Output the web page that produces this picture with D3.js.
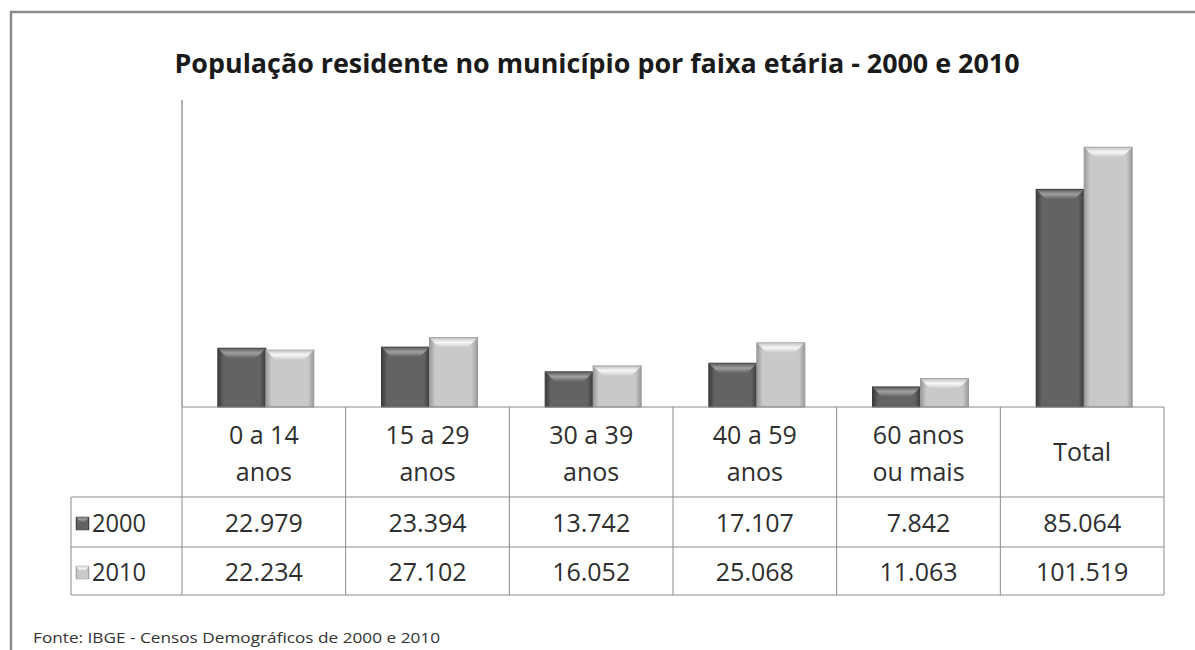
<!DOCTYPE html>
<html>
<head>
<meta charset="utf-8">
<script src="https://cdn.jsdelivr.net/npm/d3@7"></script>
<style>
  body { margin: 0; background: #fff; }
  text { font-family: "Open Sans", "Noto Sans", sans-serif; }
</style>
</head>
<body>
<div id="chart"></div>
<script>
// data
const categories = ["0 a 14|anos", "15 a 29|anos", "30 a 39|anos", "40 a 59|anos", "60 anos|ou mais", "Total"];
const series = ["2000", "2010"];
const values2000 = [22979, 23394, 13742, 17107, 7842, 85064];
const values2010 = [22234, 27102, 16052, 25068, 11063, 101519];
const title = "População residente no município por faixa etária - 2000 e 2010";
const source = "Fonte: IBGE - Censos Demográficos de 2000 e 2010";

const width = 1195, height = 650;
const plot = {left: 182, right: 1164, top: 100, bottom: 407};
const rowH = [90, 50, 48];

const svg = d3.select("#chart").append("svg")
  .attr("width", width).attr("height", height);

const defs = svg.append("defs");
const colors = {"2000": ["#3a3a3a", "#636363", "#a0a0a0"], "2010": ["#999", "#c9c9c9", "#f7f7f7"]};
series.forEach(s => {
  const c = colors[s];
  const g = defs.append("linearGradient").attr("id", "body" + s).attr("x1", 0).attr("x2", 1);
  g.append("stop").attr("offset", "0%").attr("stop-color", c[0]);
  g.append("stop").attr("offset", "12%").attr("stop-color", c[1]);
  g.append("stop").attr("offset", "88%").attr("stop-color", c[1]);
  g.append("stop").attr("offset", "100%").attr("stop-color", c[0]);
  const t = defs.append("linearGradient").attr("id", "top" + s).attr("x1", 0).attr("x2", 0).attr("y1", 0).attr("y2", 1);
  t.append("stop").attr("offset", "0%").attr("stop-color", c[1]);
  t.append("stop").attr("offset", "45%").attr("stop-color", c[2]);
  t.append("stop").attr("offset", "100%").attr("stop-color", c[1]);
});

// outer frame
svg.append("path")
  .attr("d", `M11,${height} V12 H${width}`)
  .attr("fill", "none").attr("stroke", "#8a8a8a").attr("stroke-width", 2.5);

svg.append("text")
  .attr("x", 597).attr("y", 73)
  .attr("text-anchor", "middle")
  .attr("font-size", 27).attr("font-weight", "bold").attr("fill", "#1a1a1a")
  .attr("textLength", 845).attr("lengthAdjust", "spacingAndGlyphs")
  .text(title);

// scales
const x = d3.scaleBand().domain(categories).range([plot.left, plot.right]);
const xs = d3.scaleBand().domain(series).range([0, 96]);
const y = d3.scaleLinear().domain([0, 120000]).range([plot.bottom, plot.top]);

// y axis line (no ticks)
svg.append("line")
  .attr("x1", plot.left).attr("x2", plot.left)
  .attr("y1", plot.top).attr("y2", plot.bottom)
  .attr("stroke", "#666").attr("stroke-width", 1);

// bars
const data = categories.map((c, i) => ({cat: c, vals: [
  {s: "2000", v: values2000[i]}, {s: "2010", v: values2010[i]}]}));

const groups = svg.selectAll("g.cat").data(data).join("g")
  .attr("class", "cat")
  .attr("transform", d => `translate(${x(d.cat) + (x.bandwidth() - 96) / 2 + 2},0)`);

const bars = groups.selectAll("g.bar").data(d => d.vals).join("g").attr("class", "bar");
bars.append("rect")
  .attr("x", d => xs(d.s)).attr("width", xs.bandwidth())
  .attr("y", d => y(d.v)).attr("height", d => y(0) - y(d.v))
  .attr("fill", d => `url(#body${d.s})`)
  .attr("stroke", d => colors[d.s][0]).attr("stroke-width", 1);
bars.append("path")
  .attr("d", d => {
    const x0 = xs(d.s), w = xs.bandwidth(), t = y(d.v), b = 10;
    return `M${x0 + 0.5},${t + 0.5} H${x0 + w - 0.5} L${x0 + w - b},${t + b} H${x0 + b} Z`;
  })
  .attr("fill", d => `url(#top${d.s})`);

// table
const tTop = plot.bottom;
const rowY = [tTop, tTop + rowH[0], tTop + rowH[0] + rowH[1], tTop + rowH[0] + rowH[1] + rowH[2]];
const table = svg.append("g").attr("stroke", "#8a8a8a").attr("stroke-width", 1);
table.append("line").attr("x1", plot.left).attr("x2", plot.right).attr("y1", rowY[0]).attr("y2", rowY[0]);
[1, 2, 3].forEach(i => table.append("line").attr("x1", 71).attr("x2", plot.right).attr("y1", rowY[i]).attr("y2", rowY[i]));
table.append("line").attr("x1", 71).attr("x2", 71).attr("y1", rowY[1]).attr("y2", rowY[3]);
categories.forEach(c => table.append("line").attr("x1", x(c)).attr("x2", x(c)).attr("y1", rowY[0]).attr("y2", rowY[3]));
table.append("line").attr("x1", plot.right).attr("x2", plot.right).attr("y1", rowY[0]).attr("y2", rowY[3]);

const cellFont = 25, txt = "#2e2e2e";
categories.forEach(c => {
  const lines = c.split("|");
  const cx = x(c) + x.bandwidth() / 2;
  const t = svg.append("text").attr("text-anchor", "middle").attr("font-size", cellFont).attr("fill", txt);
  if (lines.length === 1) {
    t.attr("x", cx).attr("y", (rowY[0] + rowY[1]) / 2 + 9).text(lines[0]);
  } else {
    t.append("tspan").attr("x", cx).attr("y", rowY[0] + 37).text(lines[0]);
    t.append("tspan").attr("x", cx).attr("y", rowY[0] + 74).text(lines[1]);
  }
});

const fmt = d3.formatLocale({decimal: ",", thousands: ".", grouping: [3], currency: ["", ""]}).format(",d");
[values2000, values2010].forEach((vals, r) => {
  const cy = (rowY[r + 1] + rowY[r + 2]) / 2 + 10;
  categories.forEach((c, i) => {
    svg.append("text").attr("x", x(c) + x.bandwidth() / 2).attr("y", cy)
      .attr("text-anchor", "middle").attr("font-size", cellFont).attr("fill", txt)
      .text(fmt(vals[i]));
  });
  // legend key
  const s = series[r];
  svg.append("rect").attr("x", 76).attr("y", cy - 15).attr("width", 13).attr("height", 13)
    .attr("fill", `url(#body${s})`).attr("stroke", colors[s][0]).attr("stroke-width", 0.5);
  svg.append("path")
    .attr("d", `M76,${cy - 15} H89 L85,${cy - 10} H80 Z`).attr("fill", `url(#top${s})`);
  svg.append("text").attr("x", 92).attr("y", cy).attr("font-size", cellFont).attr("fill", txt)
    .attr("textLength", 54).attr("lengthAdjust", "spacingAndGlyphs").text(s);
});

svg.append("text")
  .attr("x", 33).attr("y", 643)
  .attr("font-size", 15).attr("fill", "#333")
  .attr("textLength", 407).attr("lengthAdjust", "spacingAndGlyphs")
  .text(source);
</script>
</body>
</html>
